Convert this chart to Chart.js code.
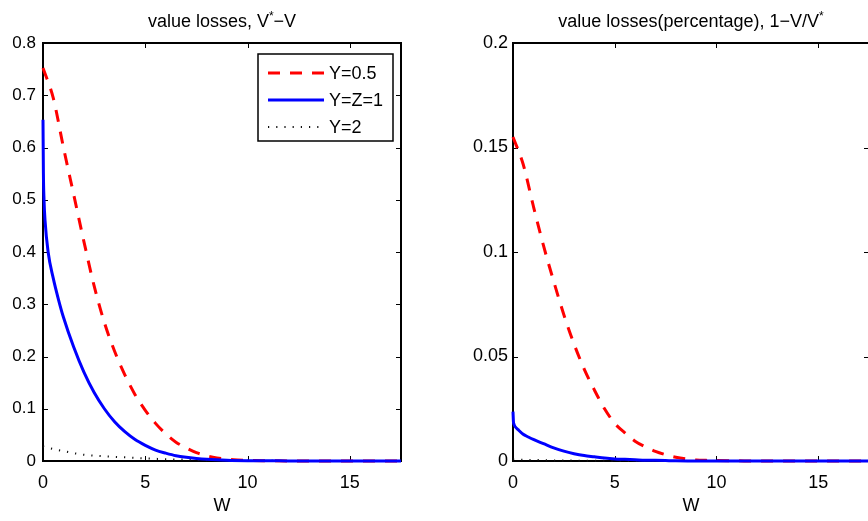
<!DOCTYPE html>
<html>
<head>
<meta charset="utf-8">
<script src="https://cdn.jsdelivr.net/npm/chart.js@4.4.1/dist/chart.umd.min.js"></script>
<style>
  html, body { margin:0; padding:0; background:#fff; overflow:hidden; width:868px; height:521px; }
  #c1 { position:absolute; left:0; top:0; }
  #c2 { position:absolute; left:430px; top:0; }
</style>
</head>
<body>
<canvas id="c1" width="430" height="521"></canvas>
<canvas id="c2" width="450" height="521"></canvas>
<script>
// W grids
const wRed  = [0,0.5,1,1.5,2,2.5,3,3.5,4,4.5,5,5.5,6,6.5,7,7.5,8,8.5,9,9.5,10,11,12,14,16,17.5];
const wBlue = [0,0.02,0.05,0.1,0.25,0.5,0.75,1,1.5,2,2.5,3,3.5,4,4.5,5,5.5,6,6.5,7,7.5,8,9,10,12,14,17.5];
const wDot  = [0,0.5,1,1.5,2,3,4,5,6,7,8,10,12,17.5];

// left panel: V* - V
const lossRed  = [0.752,0.695,0.60,0.51,0.42,0.335,0.265,0.21,0.165,0.127,0.097,0.072,0.052,0.036,0.025,0.016,0.010,0.006,0.0035,0.002,0.001,0.0004,0.0001,0,0,0];
const lossBlue = [0.653,0.55,0.50,0.46,0.40,0.35,0.31,0.275,0.218,0.170,0.131,0.100,0.075,0.056,0.041,0.030,0.021,0.015,0.010,0.007,0.005,0.0035,0.0016,0.0007,0.0002,0,0];
const lossDot  = [0.028,0.023,0.019,0.015,0.012,0.009,0.007,0.005,0.0035,0.0025,0.0015,0.0005,0.0002,0];

// right panel: 1 - V/V*
const pctRed  = [0.155,0.142,0.122,0.103,0.086,0.070,0.056,0.044,0.034,0.025,0.018,0.0135,0.0095,0.0068,0.0046,0.003,0.0018,0.001,0.0005,0.0003,0.0002,0.0001,0,0,0,0];
const pctBlue = [0.0236,0.019,0.0175,0.0165,0.0150,0.0128,0.0115,0.0103,0.0083,0.0063,0.0047,0.0035,0.0026,0.0020,0.0014,0.0010,0.0008,0.0006,0.0004,0.0003,0.0002,0.0001,0,0,0,0,0];
const pctDot  = [0.0008,0.0006,0.0005,0.0004,0.0003,0.0002,0.0001,0.00005,0,0,0,0,0,0];

const seriesNames = ['Y=0.5', 'Y=Z=1', 'Y=2'];
const xTicks = [0, 5, 10, 15];
const yTicksLeft = [0, 0.1, 0.2, 0.3, 0.4, 0.5, 0.6, 0.7, 0.8];
const yTicksRight = [0, 0.05, 0.1, 0.15, 0.2];

const FAMILY = '"Liberation Sans", Arial, Helvetica, sans-serif';
Chart.defaults.font.family = FAMILY;
Chart.defaults.color = '#000';
Chart.defaults.animation = false;

function pts(xs, ys) { return xs.map((x, i) => ({ x: x, y: ys[i] })); }

// matlab style box with inward ticks
const boxPlugin = {
  id: 'mbox',
  beforeDatasetsDraw(chart) {
    const { ctx, chartArea: a, scales } = chart;
    const L = 5;
    ctx.save();
    ctx.strokeStyle = '#000';
    ctx.lineWidth = 1;
    ctx.beginPath();
    scales.x.ticks.forEach(t => {
      const px = Math.round(scales.x.getPixelForValue(t.value)) + 0.5;
      ctx.moveTo(px, a.bottom); ctx.lineTo(px, a.bottom - L);
      ctx.moveTo(px, a.top); ctx.lineTo(px, a.top + L);
    });
    scales.y.ticks.forEach(t => {
      const py = Math.round(scales.y.getPixelForValue(t.value)) + 0.5;
      ctx.moveTo(a.left, py); ctx.lineTo(a.left + L, py);
      ctx.moveTo(a.right, py); ctx.lineTo(a.right - L, py);
    });
    ctx.stroke();
    ctx.lineWidth = 2;
    ctx.strokeRect(a.left, a.top, a.right - a.left, a.bottom - a.top);
    ctx.restore();
  }
};

// title with superscript star
const richTitle = {
  id: 'richTitle',
  afterDraw(chart, args, opts) {
    const { ctx, chartArea: a } = chart;
    const big = '18px ' + FAMILY, small = '12px ' + FAMILY;
    ctx.save();
    let w = 0;
    opts.parts.forEach(p => { ctx.font = p.sup ? small : big; w += ctx.measureText(p.text).width; });
    let x = (a.left + a.right) / 2 - w / 2;
    ctx.fillStyle = '#000';
    ctx.textAlign = 'left';
    ctx.textBaseline = 'alphabetic';
    opts.parts.forEach(p => {
      ctx.font = p.sup ? small : big;
      ctx.fillText(p.text, x, p.sup ? opts.y - 7 : opts.y);
      x += ctx.measureText(p.text).width;
    });
    ctx.restore();
  }
};

// boxed legend inside the axes, top right
const boxLegend = {
  id: 'boxLegend',
  afterDraw(chart, args, opts) {
    if (!opts.show) return;
    const { ctx, chartArea: a } = chart;
    const w = 135, h = 87;
    const left = a.right - 8 - w, top = a.top + 11;
    ctx.save();
    ctx.fillStyle = '#fff';
    ctx.fillRect(left, top, w, h);
    ctx.strokeStyle = '#000';
    ctx.lineWidth = 1.5;
    ctx.strokeRect(left, top, w, h);
    chart.data.datasets.forEach((ds, i) => {
      const y = top + 19 + i * 27;
      ctx.strokeStyle = ds.borderColor;
      ctx.lineWidth = ds.borderWidth;
      ctx.setLineDash(ds.borderDash || []);
      ctx.beginPath(); ctx.moveTo(left + 10, y); ctx.lineTo(left + 66, y); ctx.stroke();
      ctx.setLineDash([]);
      ctx.fillStyle = '#000';
      ctx.font = '18px ' + FAMILY;
      ctx.textBaseline = 'middle';
      ctx.fillText(ds.label, left + 71, y + 1);
    });
    ctx.restore();
  }
};

function makeDatasets(red, blue, dot) {
  return [
    { label: seriesNames[0], data: pts(wRed, red), borderColor: '#ff0000', borderWidth: 3,
      borderDash: [12, 10], order: 2 },
    { label: seriesNames[1], data: pts(wBlue, blue), borderColor: '#0000ff', borderWidth: 3, order: 1 },
    { label: seriesNames[2], data: pts(wDot, dot), borderColor: '#111111', borderWidth: 2,
      borderDash: [1.2, 7], order: 3 }
  ].map(d => Object.assign(d, { pointRadius: 0, fill: false, clip: false, cubicInterpolationMode: 'monotone' }));
}

function makeScales(yMax, yTicks, yWidth, yPad, ySize) {
  return {
    x: {
      type: 'linear', min: 0, max: 17.5,
      afterBuildTicks: s => { s.ticks = xTicks.map(v => ({ value: v })); },
      afterFit: s => { s.height = 60; },
      grid: { display: false, drawTicks: false }, border: { display: false },
      ticks: { font: { size: 18 }, color: '#000', padding: 11, maxRotation: 0, callback: v => String(v) },
      title: { display: true, text: 'W', font: { size: 18 }, color: '#000', padding: { top: 0, bottom: 4 } }
    },
    y: {
      type: 'linear', min: 0, max: yMax,
      afterBuildTicks: s => { s.ticks = yTicks.map(v => ({ value: v })); },
      afterFit: s => { s.width = yWidth; },
      grid: { display: false, drawTicks: false }, border: { display: false },
      ticks: { font: { size: ySize }, color: '#000', padding: yPad, callback: v => String(v) }
    }
  };
}

new Chart(document.getElementById('c1'), {
  type: 'line',
  data: { datasets: makeDatasets(lossRed, lossBlue, lossDot) },
  options: {
    responsive: false,
    layout: { padding: { left: 0, right: 29, top: 43, bottom: 0 } },
    scales: makeScales(0.8, yTicksLeft, 43, 7, 17),
    plugins: {
      legend: { display: false }, tooltip: { enabled: false },
      richTitle: { y: 27, parts: [{ text: 'value losses, V' }, { text: '*', sup: true }, { text: '\u2212V' }] },
      boxLegend: { show: true }
    }
  },
  plugins: [boxPlugin, richTitle, boxLegend]
});

new Chart(document.getElementById('c2'), {
  type: 'line',
  data: { datasets: makeDatasets(pctRed, pctBlue, pctDot) },
  options: {
    responsive: false,
    layout: { padding: { left: 0, right: 11, top: 43, bottom: 0 } },
    scales: makeScales(0.2, yTicksRight, 83, 5, 18),
    plugins: {
      legend: { display: false }, tooltip: { enabled: false },
      richTitle: { y: 27, parts: [{ text: 'value losses(percentage), 1\u2212V/V' }, { text: '*', sup: true }] },
      boxLegend: { show: false }
    }
  },
  plugins: [boxPlugin, richTitle, boxLegend]
});
</script>
</body>
</html>
